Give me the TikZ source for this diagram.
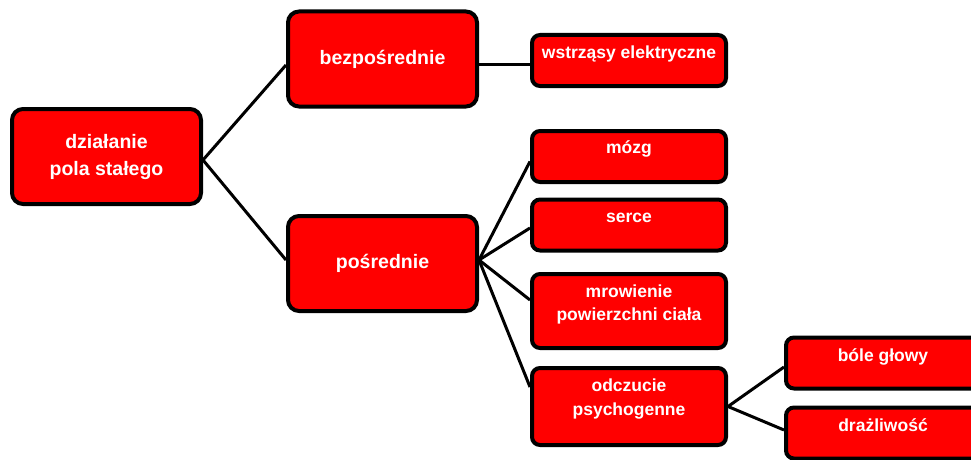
\documentclass[tikz,border=0pt]{standalone}
\usepackage{fontspec}
\setmainfont{Liberation Sans}
\begin{document}
\begin{tikzpicture}[x=1pt,y=1pt,
  box/.style={draw=black, line width=4pt, fill=red, rounded corners=8pt, inner sep=0pt},
  big/.style={box, minimum width=189pt, minimum height=95pt, rounded corners=11pt,
    text=white, align=center, font=\bfseries\fontsize{19.5}{27}\selectfont},
  small/.style={box, minimum width=194pt, minimum height=51pt},
  lab/.style={text=white, align=center, inner sep=0pt,
    font=\bfseries\fontsize{17.5}{23.5}\selectfont},
  link/.style={draw=black, line width=3pt}]
\useasboundingbox (0,0) rectangle (971,459);
\clip (0,0) rectangle (971,459);
% level 0
\node[big] (root) at (106.5,302.5) {działanie\\pola stałego};
% level 1
\node[big] (bez) at (382.5,400) {bezpośrednie};
\node[big] (pos) at (382.5,195.5) {pośrednie};
% level 2
\node[small, label={[lab, yshift=6.5pt]center:wstrząsy elektryczne}] (wstr) at (629,398.5) {};
\node[small, label={[lab, yshift=7.5pt]center:mózg}] (mozg) at (629,302.5) {};
\node[small, label={[lab, yshift=7pt]center:serce}] (serce) at (629,234) {};
\node[small, minimum height=74pt, label={[lab, yshift=6.5pt]center:mrowienie\\powierzchni ciała}] (mrow) at (629,148) {};
\node[small, minimum height=77pt, label={[lab, yshift=7.5pt]center:odczucie\\psychogenne}] (odcz) at (629,52.5) {};
% level 3
\node[small, label={[lab, yshift=6pt]center:bóle głowy}] (bole) at (883,96) {};
\node[small, label={[lab, yshift=8pt]center:drażliwość}] (draz) at (883,26) {};
% connectors
\draw[link] ([yshift=-3.5pt]root.east) -- ([yshift=-6pt]bez.west);
\draw[link] ([yshift=-3.5pt]root.east) -- ([yshift=3.5pt]pos.west);
\draw[link] ([yshift=-6pt]bez.east) -- ([yshift=-4.5pt]wstr.west);
\draw[link] ([yshift=3.5pt]pos.east) -- ([yshift=-5pt]mozg.west);
\draw[link] ([yshift=3.5pt]pos.east) -- ([yshift=-3pt]serce.west);
\draw[link] ([yshift=3.5pt]pos.east) -- ([yshift=11pt]mrow.west);
\draw[link] ([yshift=3.5pt]pos.east) -- ([yshift=19.5pt]odcz.west);
\draw[link] (odcz.east) -- ([yshift=-4pt]bole.west);
\draw[link] (odcz.east) -- ([yshift=3pt]draz.west);
\end{tikzpicture}
\end{document}
